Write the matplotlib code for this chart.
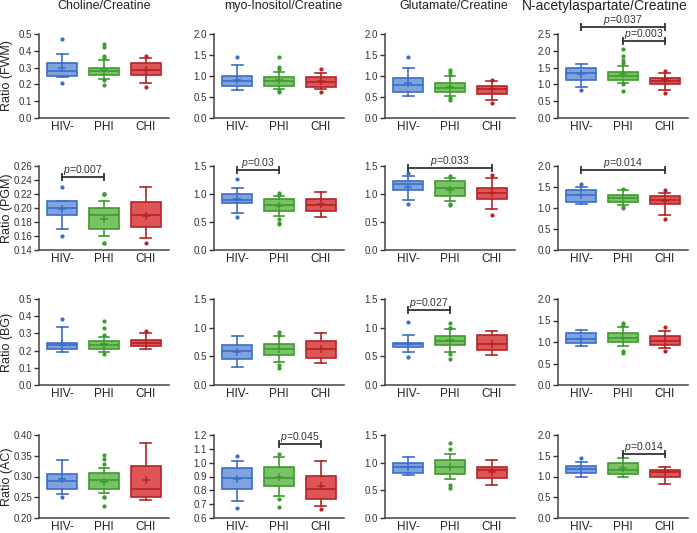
import matplotlib
matplotlib.use('Agg')
import matplotlib.pyplot as plt
from matplotlib.ticker import MultipleLocator, FormatStrFormatter

plt.rcParams['font.family'] = ['Liberation Sans', 'DejaVu Sans']
plt.rcParams['mathtext.fontset'] = 'custom'
plt.rcParams['mathtext.rm'] = 'Liberation Sans'
plt.rcParams['mathtext.it'] = 'Liberation Sans:italic'

groups = ['HIV-', 'PHI', 'CHI']
metabolites = ['Choline/Creatine', 'myo-Inositol/Creatine', 'Glutamate/Creatine',
               'N-acetylaspartate/Creatine']
regions = ['FWM', 'PGM', 'BG', 'AC']

# per group: (whisker low, q1, median, q3, whisker high, mean)
cho_fwm = [(0.242, 0.252, 0.282, 0.327, 0.383, 0.300),
           (0.234, 0.258, 0.282, 0.298, 0.347, 0.288),
           (0.208, 0.254, 0.286, 0.327, 0.355, 0.284)]
cho_fwm_out = [[0.472, 0.208], [0.44, 0.425, 0.37, 0.36, 0.228, 0.198], [0.37, 0.185]]
mi_fwm = [(0.66, 0.755, 0.87, 1.00, 1.26, 0.91),
          (0.68, 0.77, 0.87, 0.97, 1.10, 0.91),
          (0.68, 0.74, 0.85, 0.97, 1.08, 0.88)]
mi_fwm_out = [[1.455], [1.455, 1.22, 1.16, 0.64, 0.62], [1.17, 0.62]]
glu_fwm = [(0.53, 0.623, 0.79, 0.957, 1.20, 0.83),
           (0.52, 0.61, 0.72, 0.83, 1.01, 0.74),
           (0.43, 0.57, 0.68, 0.76, 0.89, 0.68)]
glu_fwm_out = [[1.46], [1.15, 1.10, 1.03, 0.47, 0.43], [0.91, 0.35]]
naa_fwm = [(0.93, 1.13, 1.33, 1.50, 1.60, 1.30),
           (1.05, 1.13, 1.25, 1.37, 1.55, 1.30),
           (0.84, 1.02, 1.10, 1.18, 1.33, 1.15)]
naa_fwm_out = [[0.84], [2.06, 1.86, 1.74, 1.64, 1.00, 0.81], [1.39, 0.74]]

cho_pgm = [(0.170, 0.190, 0.200, 0.210, 0.210, 0.198),
           (0.160, 0.170, 0.190, 0.200, 0.210, 0.185),
           (0.157, 0.173, 0.190, 0.208, 0.230, 0.189)]
cho_pgm_out = [[0.23, 0.16], [0.22, 0.22, 0.22, 0.15, 0.15], [0.15]]
mi_pgm = [(0.66, 0.84, 0.894, 1.00, 1.106, 0.91),
          (0.60, 0.69, 0.806, 0.91, 0.97, 0.79),
          (0.59, 0.69, 0.806, 0.91, 1.03, 0.82)]
mi_pgm_out = [[1.26, 0.59], [1.02, 0.98, 0.56, 0.49, 0.47], []]
glu_pgm = [(0.885, 1.07, 1.18, 1.23, 1.32, 1.13),
           (0.87, 0.97, 1.10, 1.23, 1.28, 1.07),
           (0.74, 0.91, 1.01, 1.10, 1.29, 1.01)]
glu_pgm_out = [[1.38, 0.82], [1.32, 1.30, 0.82, 0.81], [1.34, 0.63]]
naa_pgm = [(1.09, 1.15, 1.31, 1.42, 1.49, 1.30),
           (1.07, 1.14, 1.23, 1.32, 1.42, 1.25),
           (0.84, 1.09, 1.19, 1.28, 1.36, 1.17)]
naa_pgm_out = [[1.58], [1.46, 1.03, 1.01], [1.44, 0.75]]

cho_bg = [(0.19, 0.212, 0.23, 0.245, 0.338, 0.236),
          (0.193, 0.212, 0.232, 0.255, 0.278, 0.236),
          (0.207, 0.226, 0.245, 0.264, 0.30, 0.245)]
cho_bg_out = [[0.386], [0.375, 0.33, 0.293, 0.18], [0.313]]
mi_bg = [(0.32, 0.45, 0.60, 0.70, 0.85, 0.57),
         (0.40, 0.53, 0.62, 0.72, 0.85, 0.62),
         (0.38, 0.47, 0.62, 0.76, 0.90, 0.63)]
mi_bg_out = [[], [0.92, 0.88, 0.35, 0.30], []]
glu_bg = [(0.58, 0.66, 0.71, 0.735, 0.88, 0.71),
          (0.57, 0.69, 0.776, 0.863, 0.98, 0.79),
          (0.53, 0.61, 0.71, 0.88, 0.94, 0.72)]
glu_bg_out = [[1.10, 0.49], [1.08, 1.00, 0.99, 0.54, 0.46], []]
naa_bg = [(0.90, 0.97, 1.08, 1.20, 1.28, 1.08),
          (0.90, 1.00, 1.10, 1.20, 1.35, 1.10),
          (0.85, 0.93, 1.03, 1.13, 1.25, 1.03)]
naa_bg_out = [[], [1.45, 1.40, 0.80, 0.75], [1.35, 0.78]]

cho_ac = [(0.258, 0.270, 0.289, 0.307, 0.340, 0.293),
          (0.260, 0.270, 0.291, 0.309, 0.321, 0.287),
          (0.244, 0.250, 0.270, 0.326, 0.380, 0.291)]
cho_ac_out = [[0.25], [0.353, 0.342, 0.331, 0.25, 0.25, 0.228], []]
mi_ac = [(0.72, 0.809, 0.892, 0.958, 1.015, 0.885),
         (0.757, 0.828, 0.892, 0.968, 1.04, 0.897),
         (0.684, 0.738, 0.809, 0.904, 1.01, 0.828)]
mi_ac_out = [[1.046, 0.673], [1.065, 0.737, 0.68], [0.666]]
glu_ac = [(0.77, 0.82, 0.93, 1.00, 1.10, 0.92),
          (0.70, 0.80, 0.92, 1.05, 1.15, 0.93),
          (0.60, 0.72, 0.87, 0.93, 1.05, 0.83)]
glu_ac_out = [[], [1.35, 1.25, 0.60, 0.55], []]
naa_ac = [(1.00, 1.08, 1.17, 1.25, 1.35, 1.17),
          (0.98, 1.05, 1.15, 1.32, 1.45, 1.20),
          (0.82, 1.00, 1.10, 1.16, 1.22, 1.10)]
naa_ac_out = [[1.45], [], []]

stats = [[cho_fwm, mi_fwm, glu_fwm, naa_fwm],
         [cho_pgm, mi_pgm, glu_pgm, naa_pgm],
         [cho_bg, mi_bg, glu_bg, naa_bg],
         [cho_ac, mi_ac, glu_ac, naa_ac]]
outliers = [[cho_fwm_out, mi_fwm_out, glu_fwm_out, naa_fwm_out],
            [cho_pgm_out, mi_pgm_out, glu_pgm_out, naa_pgm_out],
            [cho_bg_out, mi_bg_out, glu_bg_out, naa_bg_out],
            [cho_ac_out, mi_ac_out, glu_ac_out, naa_ac_out]]

# (row, col, group a, group b, bracket height, p)
pvals = [(0, 3, 0, 2, 2.70, '0.037'), (0, 3, 1, 2, 2.30, '0.003'),
         (1, 0, 0, 1, 0.244, '0.007'), (1, 1, 0, 1, 1.42, '0.03'),
         (1, 2, 0, 2, 1.47, '0.033'), (1, 3, 0, 2, 1.91, '0.014'),
         (2, 2, 0, 1, 1.30, '0.027'), (3, 1, 1, 2, 1.136, '0.045'),
         (3, 3, 1, 2, 1.55, '0.014')]

# axis ranges: (min, max, step)
yranges = [[(0, 0.5, 0.1), (0, 2, 0.5), (0, 2, 0.5), (0, 2.5, 0.5)],
           [(0.14, 0.26, 0.02), (0, 1.5, 0.5), (0, 1.5, 0.5), (0, 2, 0.5)],
           [(0, 0.5, 0.1), (0, 1.5, 0.5), (0, 1.5, 0.5), (0, 2, 0.5)],
           [(0.2, 0.4, 0.05), (0.6, 1.2, 0.1), (0, 1.5, 0.5), (0, 2, 0.5)]]

face = ['#7ea3dd', '#79c266', '#dd5555']
edge = ['#3d6cc8', '#3d9b2f', '#b52327']

W, H = 697, 533
fig = plt.figure(figsize=(W / 100, H / 100), dpi=100)
lefts = [39, 214, 385, 558]
tops = [34, 166, 299, 435]
bottoms = [118, 250, 385, 518]
title_x = [104, 283, 454, 605]
title_size = [9, 9, 9, 10]
aw = 130

for r in range(4):
    for c in range(4):
        ax = fig.add_axes([lefts[c] / W, 1 - bottoms[r] / H, aw / W, (bottoms[r] - tops[r]) / H])
        for g in range(3):
            lo, q1, med, q3, hi, mean = stats[r][c][g]
            st = dict(whislo=lo, q1=q1, med=med, q3=q3, whishi=hi, mean=mean,
                      fliers=outliers[r][c][g])
            ax.bxp([st], positions=[g + 1], widths=0.7, patch_artist=True,
                   showmeans=True, capwidths=0.26,
                   boxprops=dict(facecolor=face[g], edgecolor=edge[g], linewidth=1.2),
                   medianprops=dict(color=edge[g], linewidth=1.2),
                   whiskerprops=dict(color=edge[g], linewidth=1.2),
                   capprops=dict(color=edge[g], linewidth=1.2),
                   meanprops=dict(marker='+', markeredgecolor=edge[g], markersize=6,
                                  markeredgewidth=1.1),
                   flierprops=dict(marker='o', markersize=2, markerfacecolor=edge[g],
                                   markeredgecolor=edge[g]))
        ymin, ymax, step = yranges[r][c]
        ax.set_ylim(ymin, ymax)
        ax.yaxis.set_major_locator(MultipleLocator(step))
        fmt = '%.2f' if step < 0.1 else '%.1f'
        ax.yaxis.set_major_formatter(FormatStrFormatter(fmt))
        ax.set_xlim(0.45, 3.55)
        ax.set_xticks([1, 2, 3])
        ax.set_xticklabels(groups, fontsize=8.5, color='#222')
        ax.tick_params(axis='x', length=0, pad=2)
        ax.tick_params(axis='y', length=3.5, width=1, labelsize=7, colors='#333', pad=1.5)
        for s in ['top', 'right']:
            ax.spines[s].set_visible(False)
        for s in ['left', 'bottom']:
            ax.spines[s].set_color('#444')
            ax.spines[s].set_linewidth(1.1)
        for pr, pc, ga, gb, yb, p in pvals:
            if pr == r and pc == c:
                ax.plot([ga + 1, gb + 1], [yb, yb], color='#333', lw=1.3, clip_on=False)
                ax.plot([ga + 1, gb + 1], [yb, yb], ls='none', marker='|', ms=6,
                        mew=1.3, color='#333', clip_on=False)
                ax.annotate('$p$=' + p, ((ga + gb) / 2 + 1, yb), xytext=(0, 3),
                            textcoords='offset points', ha='center', va='baseline',
                            fontsize=7.5, color='#333', annotation_clip=False)
        if r == 0:
            fig.text(title_x[c] / W, 1 - 6 / H, metabolites[c], ha='center',
                     va='center', fontsize=title_size[c], color='#222')
        if c == 0:
            fig.text(7 / W, 1 - (tops[r] + bottoms[r]) / 2 / H, 'Ratio (%s)' % regions[r],
                     rotation=90, ha='center', va='center', fontsize=9, color='#222')

fig.savefig('out.png', dpi=100)
